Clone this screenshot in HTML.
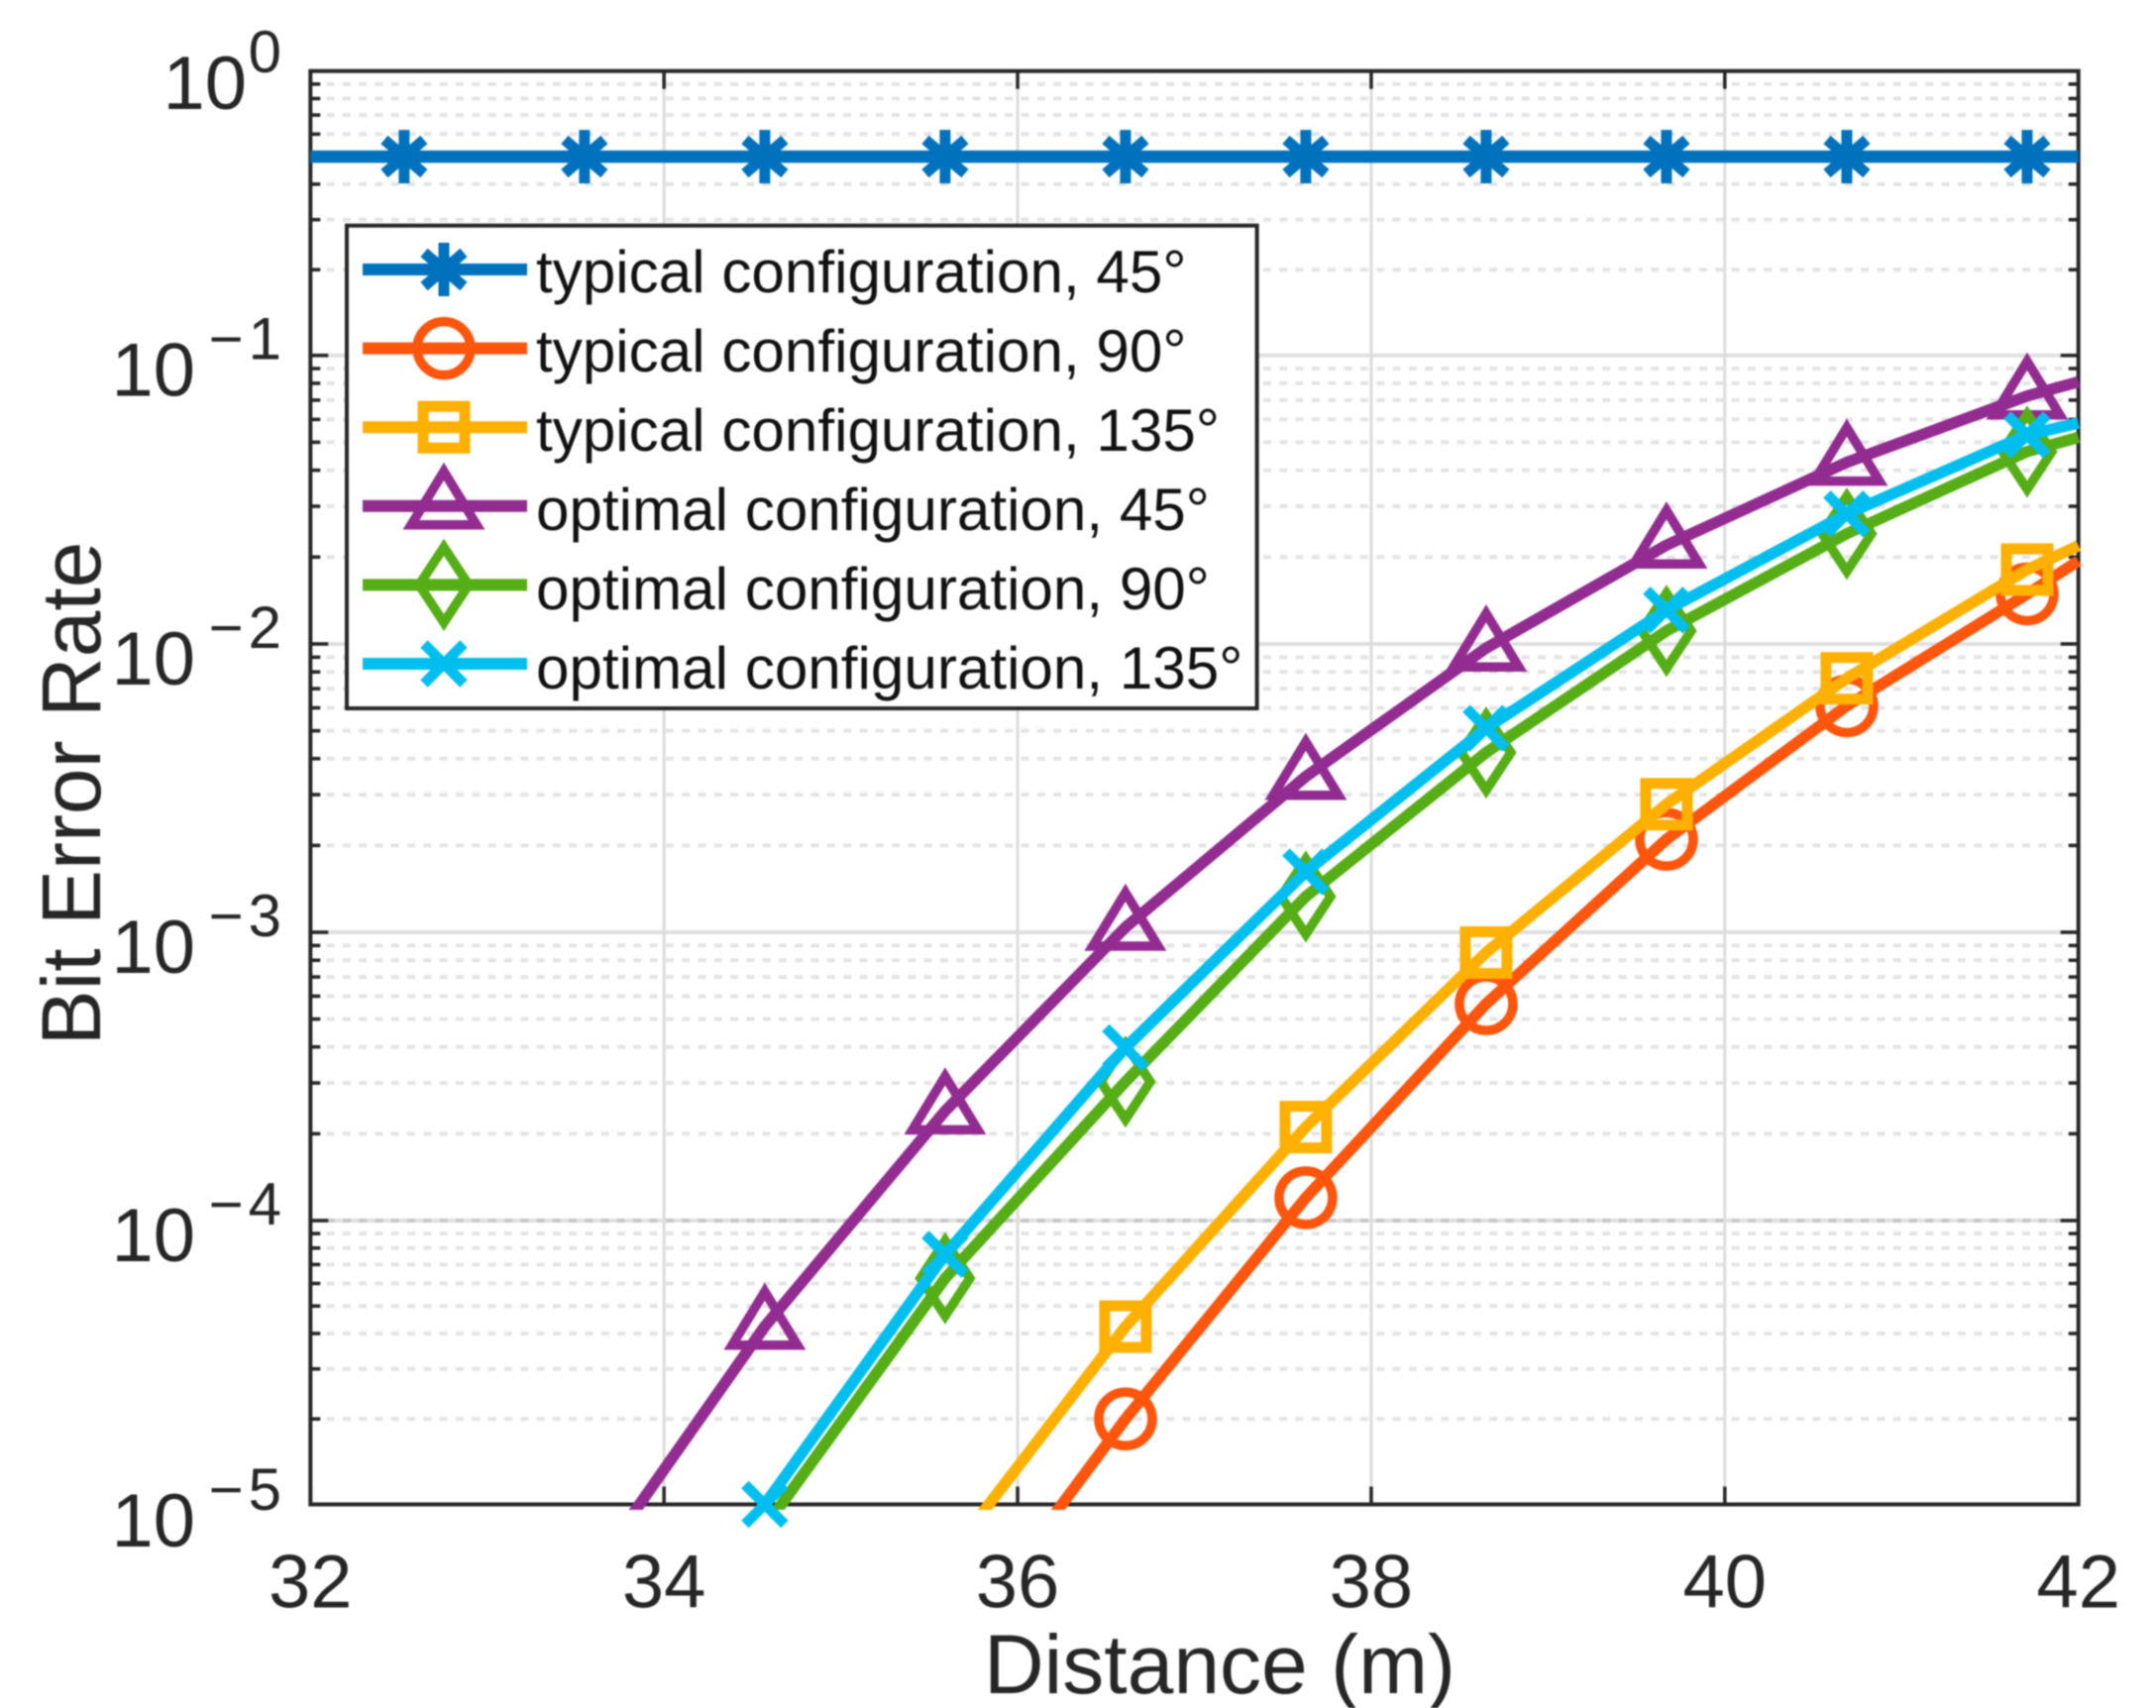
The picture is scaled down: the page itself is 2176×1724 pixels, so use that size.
<!DOCTYPE html>
<html>
<head>
<meta charset="utf-8">
<title>Bit Error Rate vs Distance</title>
<style>
html,body{margin:0;padding:0;background:#fff;}
svg{display:block;font-family:"Liberation Sans",Arial,sans-serif;filter:blur(0.7px);}
</style>
</head>
<body>
<svg id="chart" xmlns="http://www.w3.org/2000/svg" width="2176" height="1724" viewBox="0 0 2176 1724">
<defs><clipPath id="plot-clip"><rect x="311" y="69" width="1790" height="1455"></rect></clipPath></defs>
</svg>
<script>
// ---- data ----
const xValues = [32, 32.53, 33.55, 34.57, 35.59, 36.61, 37.63, 38.65, 39.67, 40.69, 41.71, 42];
const typical45 = [0.5, 0.5, 0.5, 0.5, 0.5, 0.5, 0.5, 0.5, 0.5, 0.5, 0.5, 0.5];
const typical90 = [null, null, null, null, 2.8e-6, 2.0e-5, 1.2e-4, 5.65e-4, 2.1e-3, 6.1e-3, 1.49e-2, 1.94e-2];
const typical135 = [null, null, null, null, 6.3e-6, 4.23e-5, 2.11e-4, 8.5e-4, 2.78e-3, 7.6e-3, 1.81e-2, 2.19e-2];
const optimal45 = [null, null, 5.3e-6, 4.24e-5, 2.4e-4, 1.04e-3, 3.47e-3, 9.67e-3, 2.2e-2, 4.26e-2, 7.23e-2, 8.1e-2];
const optimal90 = [null, null, null, 8.3e-6, 6.26e-5, 3.03e-4, 1.33e-3, 4.2e-3, 1.11e-2, 2.41e-2, 4.64e-2, 5.2e-2];
const optimal135 = [null, null, 1.2e-6, 1.0e-5, 7.6e-5, 3.98e-4, 1.62e-3, 5.1e-3, 1.31e-2, 2.82e-2, 5.3e-2, 5.83e-2];
const seriesLabels = ["typical configuration, 45°", "typical configuration, 90°", "typical configuration, 135°", "optimal configuration, 45°", "optimal configuration, 90°", "optimal configuration, 135°"];
const xTicks = [32, 34, 36, 38, 40, 42];
const yExponents = [0, -1, -2, -3, -4, -5];
const minorMultipliers = [2, 3, 4, 5, 6, 7, 8, 9];

// ---- style config ----
const seriesList = [
  {values: typical45, color: "#0072BD", marker: "star", name: "typical-45"},
  {values: typical90, color: "#FF550C", marker: "circle", name: "typical-90"},
  {values: typical135, color: "#FFB000", marker: "square", name: "typical-135"},
  {values: optimal45, color: "#932C91", marker: "triangle", name: "optimal-45"},
  {values: optimal90, color: "#56AE16", marker: "diamond", name: "optimal-90"},
  {values: optimal135, color: "#00BFEF", marker: "cross", name: "optimal-135"}
];
const NS = "http://www.w3.org/2000/svg";
const svg = document.getElementById("chart");
const L = 313.3, R = 2097.7, T = 71.7, B = 1518.5;
const TEXT = "#262626";
// axis functions
function xScale(v){ return L + (v - 32) / 10 * (R - L); }
const decadePx = [71.7, 358.7, 650, 941, 1232, 1518.5];
function yScale(v){
  const e = -Math.log10(v);
  const i = Math.max(0, Math.min(4, Math.floor(e)));
  return decadePx[i] + (e - i) * (decadePx[i + 1] - decadePx[i]);
}
function node(tag, parent, attrs){
  const n = document.createElementNS(NS, tag);
  for (const k in attrs) n.setAttribute(k, attrs[k]);
  parent.appendChild(n);
  return n;
}
function drawMarker(parent, kind, x, y, color){
  const g = node("g", parent, {fill: "none", stroke: color, "stroke-width": 9.5});
  if (kind === "star") {
    g.setAttribute("stroke-width", 11);
    node("path", g, {d: `M${x} ${y-27}V${y+27}M${x-20} ${y-17}L${x+20} ${y+17}M${x-20} ${y+17}L${x+20} ${y-17}`});
    node("circle", g, {cx: x, cy: y, r: 12, fill: color, stroke: "none"});
  } else if (kind === "circle") {
    node("circle", g, {cx: x, cy: y, r: 27});
  } else if (kind === "square") {
    g.setAttribute("stroke-width", 11);
    node("rect", g, {x: x - 21, y: y - 21, width: 42, height: 42});
  } else if (kind === "triangle") {
    node("path", g, {d: `M${x} ${y-35}L${x+33} ${y+19}L${x-33} ${y+19}Z`, "stroke-linejoin": "miter"});
  } else if (kind === "diamond") {
    node("path", g, {d: `M${x} ${y-38}L${x+25} ${y}L${x} ${y+38}L${x-25} ${y}Z`});
  } else if (kind === "cross") {
    g.setAttribute("stroke-width", 10.5);
    node("path", g, {d: `M${x-20} ${y-20}L${x+20} ${y+20}M${x-20} ${y+20}L${x+20} ${y-20}`});
  }
  return g;
}

// ---- grid ----
const grid = node("g", svg, {});


yExponents.forEach(function(e){
  if (e < -4) return;
  for (const m of minorMultipliers) {
    const gy = yScale(m * Math.pow(10, e - 1));
    const line = node("line", grid, {x1: L, x2: R, y1: gy, y2: gy, stroke: "#e4e4e4", "stroke-width": 4, "stroke-dasharray": "8 8.3"});
    
    
  }
});
yExponents.forEach(function(e){
  if (e === 0 || e === -5) return;
  const gy = yScale(Math.pow(10, e));
  const line = node("line", grid, {x1: L, x2: R, y1: gy, y2: gy, stroke: "#e0e0e0", "stroke-width": 4});
  
  
  if (e === -4) {
    const over = node("line", grid, {x1: L, x2: R, y1: gy, y2: gy, stroke: "#c6c6c6", "stroke-width": 4, "stroke-dasharray": "8 8.3"});
    
    
  }
});
xTicks.forEach(function(t){
  if (t === 32 || t === 42) return;
  const gx = xScale(t);
  const line = node("line", grid, {x1: gx, x2: gx, y1: T, y2: B, stroke: "#dcdcdc", "stroke-width": 3});
  
  
});

// ---- ticks ----
const ticks = node("g", svg, {stroke: "#262626"});


xTicks.forEach(function(t){
  const tx = xScale(t);
  const a = node("path", ticks, {d: `M${tx} ${B}v-18M${tx} ${T}v18`, "stroke-width": 3.5});
  
  
});
yExponents.forEach(function(e){
  const ty = yScale(Math.pow(10, e));
  const a = node("path", ticks, {d: `M${L} ${ty}h18M${R} ${ty}h-18`, "stroke-width": 3.5});
  
  
  if (e === -5) return;
  for (const m of minorMultipliers) {
    const my = yScale(m * Math.pow(10, e - 1));
    const b = node("path", ticks, {d: `M${L} ${my}h10M${R} ${my}h-10`, "stroke-width": 3.5});
    
    
  }
});

// ---- frame ----
const frame = node("rect", svg, {x: L, y: T, width: R - L, height: B - T, fill: "none", stroke: "#262626", "stroke-width": 4});



// ---- tick labels ----
xTicks.forEach(function(t){
  const lab = node("text", svg, {x: xScale(t), y: 1622.5, "text-anchor": "middle", "font-size": 76, fill: TEXT});
  lab.textContent = String(t);
  
  
});
yExponents.forEach(function(e){
  const ty = yScale(Math.pow(10, e));
  const base = ty + (e === 0 ? 38.5 : (e === -5 ? 42.5 : 41));
  const lab = node("text", svg, {x: e === 0 ? 249 : 197, y: base, "text-anchor": "end", "font-size": 76, fill: TEXT});
  lab.textContent = "10";
  
  
  const sup = node("text", svg, {x: e === 0 ? 284 : 289, y: base - 37, "text-anchor": "end", "font-size": 60, fill: TEXT, "letter-spacing": e === 0 ? 0 : 5});
  sup.textContent = e === 0 ? "0" : "\u2212" + Math.abs(e);
  
  
});

// ---- axis titles ----
const xTitle = node("text", svg, {x: 1231, y: 1709, "text-anchor": "middle", "font-size": 84, fill: TEXT});
xTitle.textContent = "Distance (m)";


const yTitle = node("text", svg, {x: 0, y: 0, transform: "translate(101 801) rotate(-90)", "text-anchor": "middle", "font-size": 84, fill: TEXT});
yTitle.textContent = "Bit Error Rate";



// ---- series ----
seriesList.forEach(function(s){
  const group = node("g", svg, {});
  
  
  let d = "";
  s.values.forEach(function(v, i){
    if (v === null) return;
    d += (d ? "L" : "M") + xScale(xValues[i]).toFixed(1) + " " + yScale(v).toFixed(1);
  });
  const path = node("path", group, {d: d, fill: "none", stroke: s.color, "stroke-width": s.marker === "star" ? 12.5 : 11.5, "clip-path": "url(#plot-clip)", "stroke-linejoin": "round"});
  
  
  s.values.forEach(function(v, i){
    if (v === null || i === 0 || i === xValues.length - 1 || v < 1e-5) return;
    const m = drawMarker(group, s.marker, xScale(xValues[i]), yScale(v), s.color);
    
    
  });
});

// ---- legend ----
const legend = node("g", svg, {});


const legendBox = node("rect", legend, {x: 350, y: 227.7, width: 918.6, height: 487.3, fill: "#fff", stroke: "#262626", "stroke-width": 4});


seriesList.forEach(function(s, i){
  const entry = node("g", legend, {});
  
  
  const ly = 272 + i * 79.6;
  const sample = node("line", entry, {x1: 366, x2: 532, y1: ly, y2: ly, stroke: s.color, "stroke-width": 12});
  
  
  const mk = drawMarker(entry, s.marker, 448, ly, s.color);
  
  
  const label = node("text", entry, {x: 541, y: 295 + i * 80, "font-size": 60.2, fill: "#111"});
  label.textContent = seriesLabels[i];
  
  
});
</script>
</body>
</html>
